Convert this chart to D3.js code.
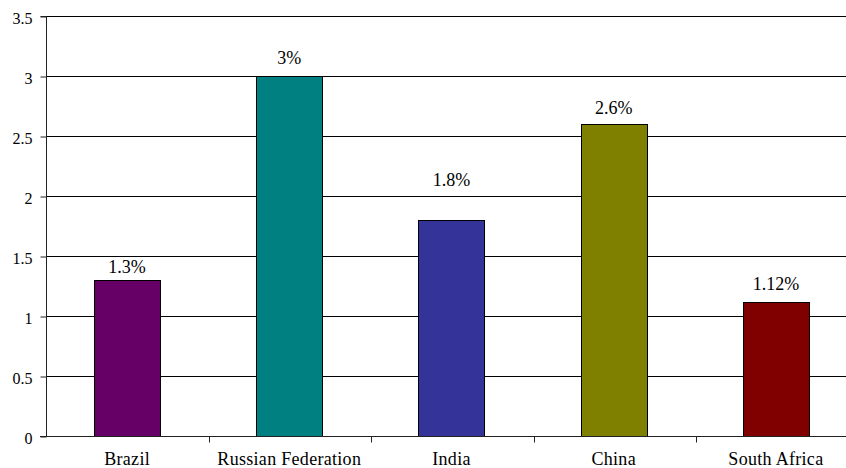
<!DOCTYPE html>
<html>
<head>
<meta charset="utf-8">
<script src="https://cdn.jsdelivr.net/npm/d3@7/dist/d3.min.js"></script>
<style>
  html, body { margin: 0; padding: 0; background: #fff; overflow: hidden; }
  svg text { font-family: "Liberation Serif", "Times New Roman", serif; fill: #000; }
</style>
</head>
<body>
<svg id="chart" width="846" height="468"></svg>
<script>
const categories = ["Brazil", "Russian Federation", "India", "China", "South Africa"];
const values = [1.3, 3, 1.8, 2.6, 1.12];
const valueLabels = ["1.3%", "3%", "1.8%", "2.6%", "1.12%"];
const barColors = ["#660066", "#008080", "#333399", "#808000", "#800000"];
const yTicks = [0, 0.5, 1, 1.5, 2, 2.5, 3, 3.5];

// layout: distance in px from bar top to label baseline
const labelGap = [7, 12, 34, 10, 12];

const width = 846, height = 468;
const axisX = 46;            // vertical axis position
const plotRight = 857;       // plot area continues past the right edge of the view
const plotTop = 16, plotBottom = 436;

const svg = d3.select("#chart");

const x = d3.scaleBand()
  .domain(categories)
  .range([46, plotRight])
  .paddingInner(0.592)
  .paddingOuter(0.296);

const y = d3.scaleLinear()
  .domain([0, 3.5])
  .range([plotBottom, plotTop]);

const px = v => Math.round(v) + 0.5;

// horizontal gridlines
svg.append("g")
  .selectAll("line")
  .data(yTicks.filter(d => d > 0))
  .join("line")
  .attr("x1", axisX)
  .attr("x2", plotRight)
  .attr("y1", d => px(y(d)))
  .attr("y2", d => px(y(d)))
  .attr("stroke", "#000")
  .attr("stroke-width", 1);

// bars
svg.append("g")
  .selectAll("rect")
  .data(values)
  .join("rect")
  .attr("x", (d, i) => px(x(categories[i])))
  .attr("y", d => px(y(d)))
  .attr("width", Math.round(x.bandwidth()))
  .attr("height", d => Math.round(y(0)) - Math.round(y(d)))
  .attr("fill", (d, i) => barColors[i])
  .attr("stroke", "#000")
  .attr("stroke-width", 1);

// value labels
svg.append("g")
  .selectAll("text")
  .data(values)
  .join("text")
  .attr("x", (d, i) => x(categories[i]) + x.bandwidth() / 2)
  .attr("y", (d, i) => y(d) - labelGap[i])
  .attr("text-anchor", "middle")
  .attr("font-size", 18)
  .text((d, i) => valueLabels[i]);

// y axis
const yAxis = d3.axisLeft(y)
  .tickValues(yTicks)
  .tickSize(6)
  .tickPadding(8)
  .tickFormat(d3.format("~g"));
const gy = svg.append("g")
  .attr("transform", `translate(${axisX + 0.5},0.5)`)
  .call(yAxis);
gy.attr("font-family", null);
gy.selectAll("text")
  .attr("font-size", 16)
  .attr("dy", "0.45em");
gy.selectAll(".tick line").attr("stroke", "#222");
gy.select(".domain").attr("stroke", "#222").attr("d", `M-6,${y(3.5)}H0V${y(0)}`);

// x axis with ticks at category boundaries
const xAxisG = svg.append("g").attr("transform", `translate(0,${px(y(0))})`);
xAxisG.append("line")
  .attr("x1", axisX - 6)
  .attr("x2", plotRight)
  .attr("stroke", "#222");
const step = x.step();
const boundaries = d3.range(1, categories.length).map(i => x(categories[i]) - step * x.paddingInner() / 2 + 1);
xAxisG.selectAll("line.tick")
  .data(boundaries)
  .join("line")
  .attr("class", "tick")
  .attr("x1", d => px(d))
  .attr("x2", d => px(d))
  .attr("y1", 0)
  .attr("y2", 6)
  .attr("stroke", "#222");
xAxisG.selectAll("text")
  .data(categories)
  .join("text")
  .attr("x", d => x(d) + x.bandwidth() / 2)
  .attr("y", 28)
  .attr("text-anchor", "middle")
  .attr("font-size", 18)
  .attr("letter-spacing", 0.3)
  .text(d => d);
</script>
</body>
</html>
